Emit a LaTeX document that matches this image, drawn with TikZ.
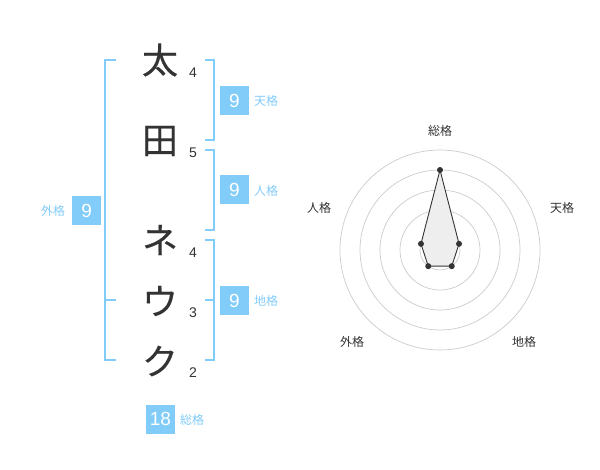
\documentclass[tikz,border=0pt]{standalone}
\usepackage{fontspec}
\setmainfont{Noto Sans CJK JP}
\newfontfamily\digitfont{Liberation Sans}
\newfontfamily\kanjifont[FakeBold=0.3]{Noto Sans CJK JP}
\usetikzlibrary{calc}
\definecolor{kblue}{RGB}{130,204,250}
\definecolor{ink}{RGB}{51,51,51}
\definecolor{ringgray}{RGB}{204,204,204}
\definecolor{polyfill}{RGB}{238,238,238}
\begin{document}
\begin{tikzpicture}[x=1pt,y=-1pt,
  kanji/.style={font=\kanjifont\fontsize{36}{36}\selectfont, text=ink, inner sep=0},
  strokes/.style={font=\digitfont\fontsize{14}{14}\selectfont, text=ink, inner sep=0},
  numbox/.style={fill=kblue, text=white, minimum width=29pt, minimum height=29pt, inner sep=0, font=\digitfont\fontsize{19}{19}\selectfont},
  klabel/.style={text=kblue, font=\fontsize{12}{12}\selectfont, inner sep=0},
  bracket/.style={draw=kblue, line width=2pt},
  ring/.style={draw=ringgray, line width=0.7pt},
  rlabel/.style={text=ink, font=\fontsize{12}{12}\selectfont, inner sep=0},
  dotnode/.style={circle, fill=ink, inner sep=0, minimum size=6pt},
  poly/.style={draw=ink, line width=0.9pt, fill=polyfill},
]
\fill[white] (0,0) rectangle (600,470);
\useasboundingbox (0,0) rectangle (600,470);

% name characters
\node[kanji] (c1) at (160,60) {太};
\node[kanji] (c2) at (160,141) {田};
\node[kanji] (c3) at (160,240) {ネ};
\node[kanji] (c4) at (160,301) {ウ};
\node[kanji] (c5) at (160,361) {ク};

% stroke counts
\node[strokes] (n1) at (193,73) {4};
\node[strokes] (n2) at (193,153) {5};
\node[strokes] (n3) at (193,253) {4};
\node[strokes] (n4) at (193,313) {3};
\node[strokes] (n5) at (193,373) {2};

% brackets
\draw[bracket] (116,60) -- (105,60) -- (105,360) -- (116,360);
\draw[bracket] (105,300) -- (116,300);
\draw[bracket] (205,60) -- (214,60) -- (214,140) -- (205,140);
\draw[bracket] (205,150) -- (214,150) -- (214,230) -- (205,230);
\draw[bracket] (205,240) -- (214,240) -- (214,360) -- (205,360);
\draw[bracket] (205,300) -- (214,300);

% boxes and labels
\node[numbox] (bten) at (234.5,100.5) {9};
\node[klabel] (lten) at (266,101) {天格};
\node[numbox] (bjin) at (234.5,190) {9};
\node[klabel] (ljin) at (266,191) {人格};
\node[numbox] (bchi) at (234.5,300.5) {9};
\node[klabel] (lchi) at (266,301) {地格};
\node[numbox] (bgai) at (86.7,210.5) {9};
\node[klabel] (lgai) at (53,211) {外格};
\node[numbox] (bso) at (160.5,419) {18};
\node[klabel] (lso) at (192,420) {総格};

% radar chart
\coordinate (rc) at (440,250);
\foreach \r in {20,40,60,80,100} {
  \draw[ring] (rc) circle (\r);
}
\fill[ringgray] (rc) circle (4);
\coordinate (p1) at ($(rc)+(-90:80)$);
\coordinate (p2) at ($(rc)+(-18:20)$);
\coordinate (p3) at ($(rc)+(54:20)$);
\coordinate (p4) at ($(rc)+(126:20)$);
\coordinate (p5) at ($(rc)+(198:20)$);
\path[poly] (p1) -- (p2) -- (p3) -- (p4) -- (p5) -- cycle;
\node[dotnode] (d1) at (p1) {};
\node[dotnode] (d2) at (p2) {};
\node[dotnode] (d3) at (p3) {};
\node[dotnode] (d4) at (p4) {};
\node[dotnode] (d5) at (p5) {};

\node[rlabel] (rso) at (440,131) {総格};
\node[rlabel] (rten) at (562,208) {天格};
\node[rlabel] (rchi) at (524,342) {地格};
\node[rlabel] (rgai) at (352,342) {外格};
\node[rlabel] (rjin) at (319,208) {人格};
\end{tikzpicture}
\end{document}
